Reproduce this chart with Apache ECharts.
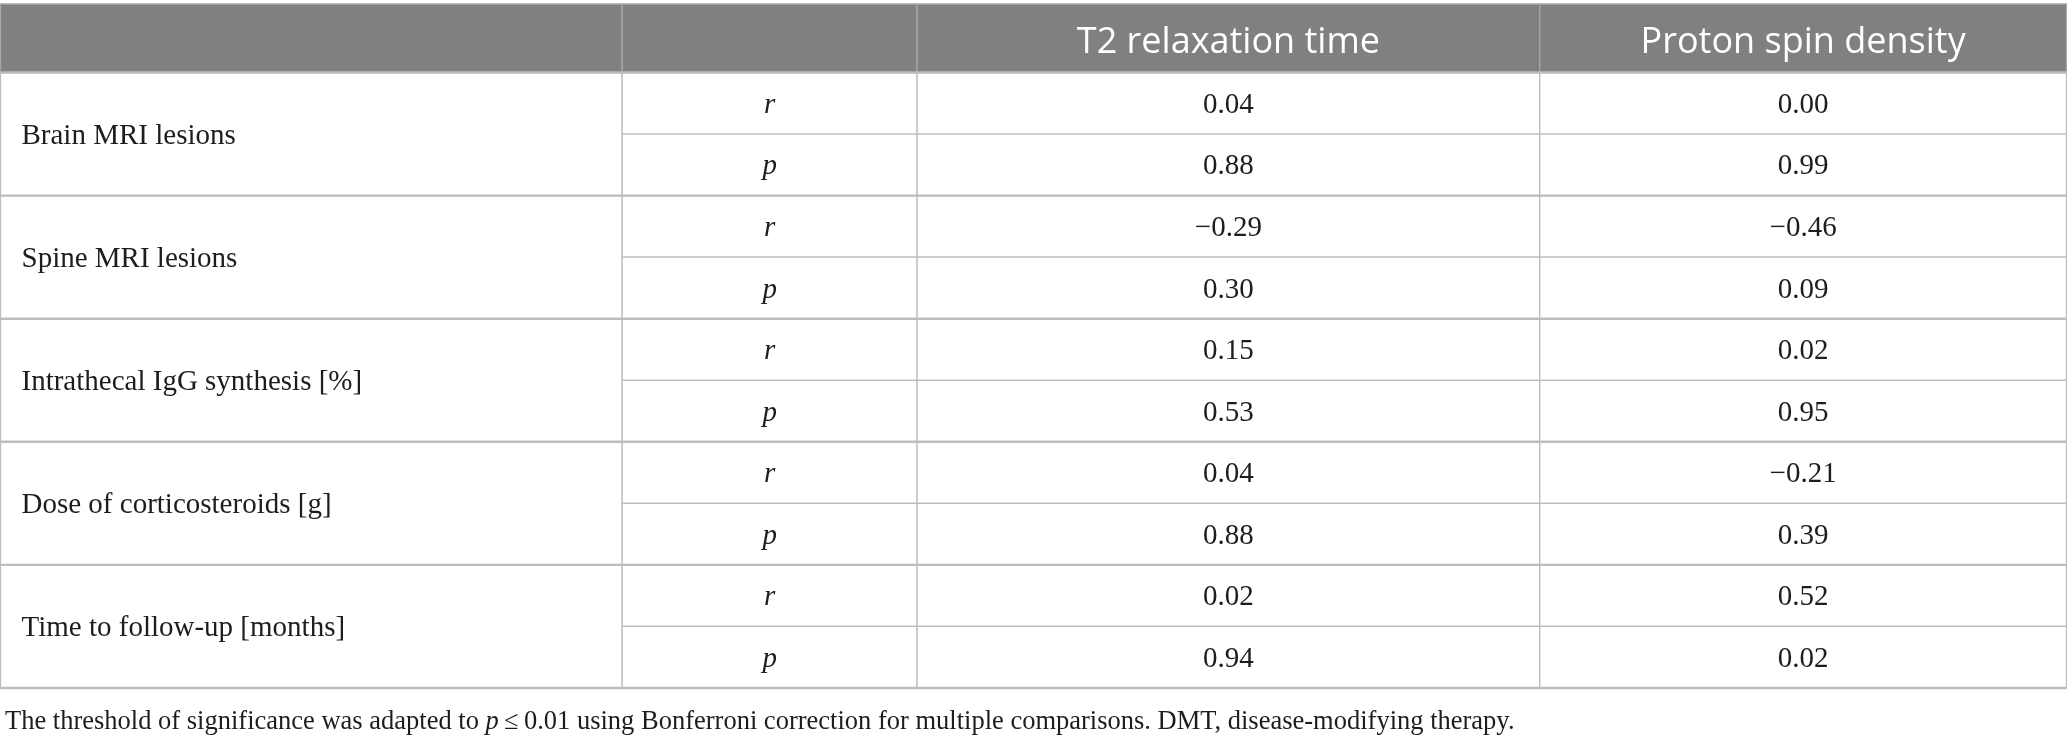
<!DOCTYPE html>
<html>
<head>
<meta charset="utf-8">
<title>Correlation table</title>
<script src="https://cdn.jsdelivr.net/npm/echarts@6/dist/echarts.min.js"></script>
<style>
  html, body { margin: 0; padding: 0; background: #fff; }
  #table { width: 2067px; height: 742px; }
</style>
</head>
<body>
<div id="table"></div>
<script>
// table content
const headers = ['', '', 'T2 relaxation time', 'Proton spin density']
const variables = [
  'Brain MRI lesions',
  'Spine MRI lesions',
  'Intrathecal IgG synthesis [%]',
  'Dose of corticosteroids [g]',
  'Time to follow-up [months]'
]
const statNames = ['r', 'p']
const t2R = [0.04, -0.29, 0.15, 0.04, 0.02]
const t2P = [0.88, 0.30, 0.53, 0.88, 0.94]
const psdR = [0.00, -0.46, 0.02, -0.21, 0.52]
const psdP = [0.99, 0.09, 0.95, 0.39, 0.02]
const footnote = 'The threshold of significance was adapted to {i|p}\u2009\u2264\u20090.01 using Bonferroni correction for multiple comparisons. DMT, disease-modifying therapy.'

// layout (x axis units = px, y axis units = body rows)
const COL_EDGES = [0, 622, 917, 1540, 2067]
const HEAD = 68.5 / 61.5
const N_ROWS = variables.length * 2

const SERIF = '"Liberation Serif", "DejaVu Serif", serif'
const SANS = '"Open Sans", "Noto Sans", sans-serif'
const INK = '#1d1d1b'
const RULE = '#bdbdbd'

const fmt = v => (v < 0 ? '\u2212' : '') + Math.abs(v).toFixed(2)

/**
 * 셀 목록 생성: [col, rowStart, rowEnd, text, kind]
 */
const buildCells = () => {
  const cells = []
  headers.forEach((h, c) => {
    cells.push([c, 0, HEAD, h, 'head'])
  })
  variables.forEach((name, i) => {
    const y0 = HEAD + i * 2
    cells.push([0, y0, y0 + 2, name, 'name'])
    const vals = [[t2R[i], psdR[i]], [t2P[i], psdP[i]]]
    statNames.forEach((s, k) => {
      cells.push([1, y0 + k, y0 + k + 1, s, 'stat'])
      cells.push([2, y0 + k, y0 + k + 1, fmt(vals[k][0]), 'val'])
      cells.push([3, y0 + k, y0 + k + 1, fmt(vals[k][1]), 'val'])
    })
  })
  return cells
}

const cellData = buildCells()
// group separators (thicker rules between variables)
const groupRules = variables.map((v, i) => [HEAD + i * 2])
groupRules.push([HEAD + N_ROWS])

const renderCell = (params, api) => {
  const c = api.value(0)
  const kind = cellData[params.dataIndex][4]
  const text = cellData[params.dataIndex][3]
  const p0 = api.coord([COL_EDGES[c], api.value(1)])
  const p1 = api.coord([COL_EDGES[c + 1], api.value(2)])
  const rect = { x: p0[0], y: p0[1], width: p1[0] - p0[0], height: p1[1] - p0[1] }
  const isHead = kind === 'head'
  const style = {
    text: text,
    fill: isHead ? '#fff' : INK,
    fontFamily: isHead ? SANS : SERIF,
    fontSize: isHead ? 36 : 29,
    fontStyle: kind === 'stat' ? 'italic' : 'normal',
    align: kind === 'name' ? 'left' : 'center',
    verticalAlign: 'middle',
    x: kind === 'name' ? rect.x + 21 : rect.x + rect.width / 2,
    y: rect.y + rect.height / 2 + (isHead ? 4 : 2)
  }
  return {
    type: 'group',
    children: [
      {
        type: 'rect',
        shape: rect,
        style: {
          fill: isHead ? '#808080' : '#fff',
          stroke: isHead ? '#a6a6a6' : RULE,
          lineWidth: 1.3
        }
      },
      { type: 'text', style: style }
    ]
  }
}

const renderRule = (params, api) => {
  const a = api.coord([COL_EDGES[0], api.value(0)])
  const b = api.coord([COL_EDGES[COL_EDGES.length - 1], api.value(0)])
  return {
    type: 'line',
    shape: { x1: a[0], y1: a[1], x2: b[0], y2: b[1] },
    style: { stroke: RULE, lineWidth: 2.4 }
  }
}

const option = {
  backgroundColor: '#fff',
  animation: false,
  title: {
    text: footnote,
    left: 0,
    top: 704,
    textStyle: {
      fontFamily: SERIF,
      fontSize: 26.5,
      fontWeight: 'normal',
      color: INK,
      rich: {
        i: { fontFamily: SERIF, fontSize: 26.5, fontStyle: 'italic', color: INK }
      }
    }
  },
  grid: { left: 0.5, right: 0.5, top: 4, bottom: 54 },
  xAxis: { type: 'value', min: 0, max: 2067, show: false },
  yAxis: { type: 'value', min: 0, max: HEAD + N_ROWS, inverse: true, show: false },
  series: [
    {
      type: 'custom',
      renderItem: renderCell,
      data: cellData.map(d => [d[0], d[1], d[2]]),
      silent: true
    },
    {
      type: 'custom',
      renderItem: renderRule,
      data: groupRules,
      silent: true,
      z: 3
    }
  ]
}

const chart = echarts.init(document.getElementById('table'))
chart.setOption(option)
</script>
</body>
</html>
